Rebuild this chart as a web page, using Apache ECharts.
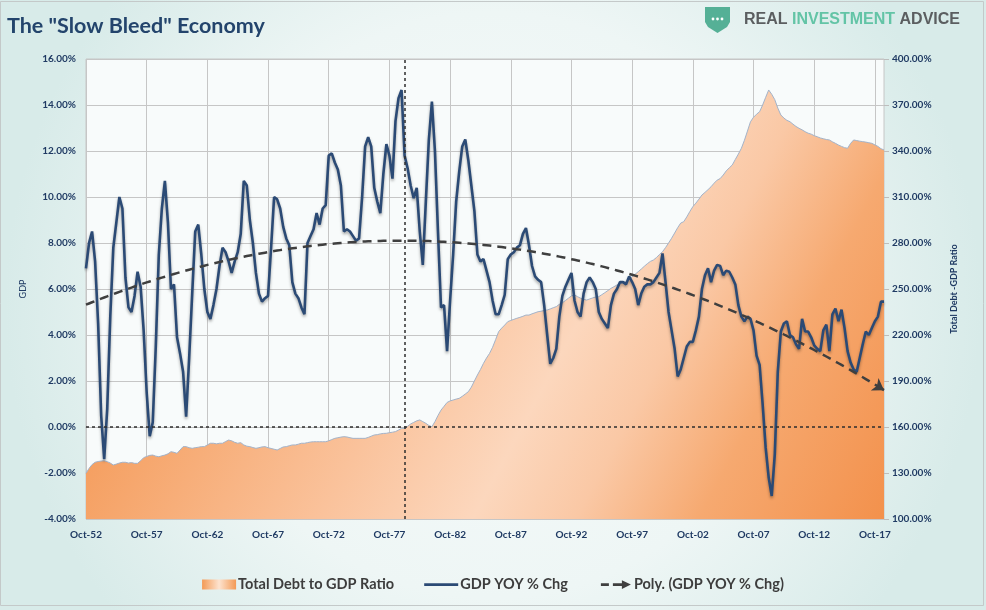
<!DOCTYPE html>
<html><head><meta charset="utf-8">
<script src="https://cdn.jsdelivr.net/npm/echarts@6/dist/echarts.min.js"></script>
<style>html,body{margin:0;padding:0;background:#fff;}#c{width:986px;height:610px;}</style>
</head><body><div id="c"></div>
<script>
// Quarterly data, first point = Oct-52
const firstYear = 1952;
const firstQuarterIndex = 3; // 0=Jan,1=Apr,2=Jul,3=Oct
const quarterMonths = ['Jan','Apr','Jul','Oct'];

// GDP YOY % change (left axis, %)
const gdpYoY = [
  6.9, 8.0, 8.5, 7.2, 4.5, 0.5, -1.4, 0.8, 4.8, 7.8,
  8.9, 10.0, 9.5, 6.5, 5.2, 5.0, 5.7, 6.75, 6.1, 4.2,
  1.5, -0.4, 0.2, 3.5, 7.5, 9.5, 10.7, 8.9, 6.0, 6.2,
  3.9, 3.2, 2.4, 0.45, 3.0, 5.8, 8.5, 8.8, 7.5, 6.0,
  5.0, 4.7, 5.3, 6.0, 7.0, 7.8, 7.6, 7.2, 6.7, 7.2,
  7.6, 8.4, 10.7, 10.5, 9.0, 8.0, 6.7, 5.8, 5.45, 5.6,
  5.7, 7.8, 10.0, 9.9, 9.5, 8.7, 8.2, 7.9, 6.3, 5.8,
  5.6, 5.2, 4.9, 8.0, 8.3, 8.6, 9.3, 8.8, 9.5, 9.65,
  11.8, 11.9, 11.5, 11.2, 10.5, 8.5, 8.6, 8.5, 8.3, 8.1,
  8.2, 10.0, 12.2, 12.6, 12.2, 10.4, 9.8, 9.3, 11.0, 12.3,
  11.8, 10.8, 13.3, 14.3, 14.65, 11.8, 11.25, 10.5, 9.95, 10.4,
  8.5, 7.05, 9.8, 12.5, 14.15, 12.0, 8.5, 5.2, 5.3, 3.3,
  5.5, 7.5, 9.8, 11.1, 12.2, 12.5, 11.6, 10.5, 9.4, 7.5,
  7.2, 7.3, 6.8, 6.3, 5.5, 4.9, 4.9, 5.3, 5.75, 7.3,
  7.5, 7.6, 7.8, 7.9, 8.4, 8.65, 7.9, 7.0, 6.55, 6.4,
  6.3, 5.3, 4.0, 2.75, 3.0, 3.4, 4.8, 5.7, 6.1, 6.4,
  6.7, 5.5, 5.0, 4.8, 5.8, 6.3, 6.5, 6.3, 6.0, 5.0,
  4.7, 4.5, 4.3, 5.3, 5.8, 6.0, 6.3, 6.3, 6.2, 6.55,
  6.3, 6.0, 5.3, 5.8, 6.1, 6.2, 6.2, 6.3, 6.5, 6.7,
  7.55, 6.3, 5.0, 4.2, 3.4, 2.2, 2.5, 3.0, 3.5, 3.7,
  3.7, 4.2, 4.8, 6.0, 6.6, 6.9, 6.3, 6.8, 7.05, 7.0,
  6.6, 6.8, 6.75, 6.5, 6.2, 5.3, 4.8, 4.6, 4.8, 4.7,
  4.2, 3.1, 2.7, 1.0, -0.9, -2.2, -3.0, -1.2, 2.4, 4.15,
  4.5, 4.6, 4.0, 3.9, 3.6, 3.4, 4.7, 4.15, 4.15, 3.9,
  3.55, 3.4, 3.3, 4.2, 4.45, 3.3, 4.9, 5.15, 4.6, 5.1,
  4.3, 3.3, 2.8, 2.5, 2.4, 3.0, 3.6, 4.15, 4.0, 4.3,
  4.6, 4.8, 5.45, 5.45
];

// Total debt to GDP ratio (right axis, %)
const debtToGdp = [
  129.8, 133, 135.5, 137, 137.5, 137.8, 138, 137.4, 136.5, 135.2,
  135.8, 136.5, 137, 137, 136.5, 136.8, 136.3, 136.3, 138, 140,
  140.8, 141.5, 141.7, 141, 140.6, 141.2, 141.7, 142.5, 143.9, 143.5,
  142.8, 145, 147.2, 147.2, 146.5, 146.1, 146.5, 146.8, 147.2, 147.2,
  148.3, 149.4, 149.4, 149, 149.4, 149.4, 150.5, 151.5, 151, 150,
  149.4, 149.8, 148.3, 147.5, 147.2, 146.6, 146.1, 146.5, 147, 147.2,
  146.5, 146, 145.5, 145, 146, 147, 147.2, 147.8, 148.3, 148.3,
  148.8, 149.4, 149.4, 149.8, 150.2, 150.4, 150.4, 150.4, 150.4, 150.4,
  151, 151.8, 152.6, 153, 153.4, 153.7, 153.5, 153, 152.6, 152.6,
  152.6, 152.6, 152.6, 153.2, 154, 154.8, 155, 155.5, 155.8, 155.9,
  156.3, 156.6, 157, 158, 159.1, 159.1, 160.5, 162, 163, 164,
  164.6, 163.5, 162.4, 161, 160.2, 163.5, 167.5, 171, 173.5, 176,
  177, 177.6, 178.2, 178.7, 180, 181.5, 183, 186, 190, 193.9,
  197.5, 201.5, 205, 208, 212, 217, 222.2, 224.5, 226.5, 228.7,
  229.5, 230.2, 230.9, 231.5, 232.2, 233, 233, 233.8, 234.5, 235.2,
  235.5, 236, 236.3, 237, 237.8, 238.5, 240, 241, 242.5, 244,
  245.5, 246.1, 245, 244, 243.2, 242.8, 243.5, 244.2, 244.8, 245,
  246.3, 247.6, 249, 250.4, 251.5, 252.6, 253.7, 254.2, 254.8, 256.5,
  258, 259.7, 261.3, 263, 264.8, 266.5, 268, 268.9, 270.5, 272.5,
  274.3, 277, 280, 283.1, 286.5, 290, 293, 293.9, 297, 300.5,
  303.7, 306, 308.6, 311.3, 313, 314.8, 316.7, 319, 321, 322,
  324.3, 327, 329, 330.9, 334.5, 338, 341.8, 347, 353, 359.1,
  362, 364, 365.6, 370, 375, 379.8, 377, 373.5, 368, 363.5,
  361.5, 360, 359.1, 357.5, 356, 354.8, 353.8, 352.6, 351.6, 351,
  350, 349.3, 348.5, 348, 347.5, 347.2, 346, 345, 343.9, 343,
  342.2, 341.8, 345, 347.2, 346.8, 346.4, 346.1, 345.8, 345.4, 345,
  344, 343, 341.5, 340.7
];

const markerCategory = 'Jan-79';   // vertical dashed reference line
const legendNames = ['Total Debt to GDP Ratio', 'GDP YOY % Chg', 'Poly. (GDP YOY % Chg)'];

// category labels
const categories = [];
{
  let y = firstYear, q = firstQuarterIndex;
  for (let i = 0; i < gdpYoY.length; i++) {
    categories.push(quarterMonths[q] + '-' + String(y % 100).padStart(2, '0'));
    q++; if (q > 3) { q = 0; y++; }
  }
}

// 2nd-order polynomial trendline (least squares, as Excel "Poly." trendline)
function polyFit2(ys) {
  const S = [0,0,0,0,0], T = [0,0,0];
  ys.forEach((v, i) => {
    const x = i / 100; let p = 1;
    for (let k = 0; k < 5; k++) { S[k] += p; if (k < 3) T[k] += p * v; p *= x; }
  });
  const A = [[S[0],S[1],S[2],T[0]],[S[1],S[2],S[3],T[1]],[S[2],S[3],S[4],T[2]]];
  for (let c = 0; c < 3; c++) {
    for (let r = c + 1; r < 3; r++) {
      const f = A[r][c] / A[c][c];
      for (let k = c; k < 4; k++) A[r][k] -= f * A[c][k];
    }
  }
  const sol = [0,0,0];
  for (let r = 2; r >= 0; r--) {
    let s = A[r][3];
    for (let k = r + 1; k < 3; k++) s -= A[r][k] * sol[k];
    sol[r] = s / A[r][r];
  }
  return ys.map((_, i) => { const x = i / 100; return sol[0] + sol[1]*x + sol[2]*x*x; });
}
const trend = polyFit2(gdpYoY);
const n = trend.length;

const navy = '#1f3a63';
const font = 'Lato, "Open Sans", sans-serif';

const chart = echarts.init(document.getElementById('c'), null, {renderer: 'canvas'});
chart.setOption({
  animation: false,
  backgroundColor: {type:'radial', x:0.5, y:0.5, r:0.8,
    colorStops:[{offset:0,color:'#f7fbfb'},{offset:0.6,color:'#eef6f5'},{offset:1,color:'#d8ebe9'}]},
  textStyle: {fontFamily: font},
  title: {
    text: 'The "Slow Bleed" Economy', left: 2, top: 10,
    textStyle: {fontSize: 21.5, fontWeight: 'bold', color: '#23446c', fontFamily: font}
  },
  graphic: [
    {type:'rect', shape:{x:0.5, y:1.5, width:983, height:604}, style:{fill:'none', stroke:'#c4c9c9', lineWidth:1}, silent:true},
    {type:'polygon', shape:{points:[[705,7],[730,7],[730,22],[727,27],[717.5,33],[708,27],[705,22]]}, style:{fill:'#55b096'}},
    {type:'circle', shape:{cx:713, cy:19, r:1.4}, style:{fill:'#fff'}},
    {type:'circle', shape:{cx:717.5, cy:19, r:1.4}, style:{fill:'#fff'}},
    {type:'circle', shape:{cx:722, cy:19, r:1.4}, style:{fill:'#fff'}},
    {type:'text', x:744, y:20, style:{
      text:'{a|REAL }{b|INVESTMENT }{a|ADVICE}', verticalAlign:'middle',
      rich:{
        a:{fontSize:16, fontWeight:'bold', fill:'#5b5e60', fontFamily:'"Liberation Sans", Arial, sans-serif'},
        b:{fontSize:16, fontWeight:'bold', fill:'#63c4a6', fontFamily:'"Liberation Sans", Arial, sans-serif'}
      }}}
  ],
  legend: {
    bottom: 13, left: 'center', itemWidth: 34, itemHeight: 10, itemGap: 30,
    textStyle: {fontSize: 14.5, fontWeight: 'bold', color: '#3d3d3d', fontFamily: font, padding: [0,0,0,-3]},
    data: [
      {name: legendNames[0], icon: 'rect', itemStyle: {color: {type:'linear', x:0,y:0,x2:1,y2:0,
        colorStops:[{offset:0,color:'#f39a55'},{offset:0.5,color:'#fde3cf'},{offset:1,color:'#f39a55'}]}}},
      {name: legendNames[1], icon: 'path://M0,0M34,10M0,3.8L34,3.8L34,6.4L0,6.4Z',
        itemStyle: {color: '#2b4a75', borderWidth: 0}, lineStyle: {width: 0}},
      {name: legendNames[2], icon: 'path://M0,0M34,10M3,3.8L11,3.8L11,6.4L3,6.4Z M15,3.8L25,3.8L25,6.4L15,6.4Z M24,0.8L33,5.1L24,9.4Z',
        itemStyle: {color: '#3f3f3f', borderWidth: 0}, lineStyle: {width: 0}}
    ]
  },
  grid: {left: 86, right: 102, top: 59, bottom: 91, show: true,
    backgroundColor: '#f8fbfb', borderColor: '#c6c6c6', borderWidth: 1},
  xAxis: {
    type: 'category', data: categories, boundaryGap: false,
    axisLine: {lineStyle: {color: '#bdbdbd'}},
    axisTick: {show: false},
    axisLabel: {interval: 19, color: navy, fontSize: 10, fontWeight: 'bold', margin: 11},
    splitLine: {show: true, interval: 19, lineStyle: {color: '#c6c6c6', width: 1}}
  },
  yAxis: [
    {type: 'value', position: 'left', min: -4, max: 16, interval: 2,
     name: 'GDP', nameLocation: 'middle', nameGap: 58, nameRotate: 90,
     nameTextStyle: {color: navy, fontSize: 9, fontFamily: font},
     axisLine: {show: false}, axisTick: {show: false},
     axisLabel: {color: navy, fontSize: 10, fontWeight: 'bold', margin: 10, formatter: v => v.toFixed(2) + '%'},
     splitLine: {lineStyle: {color: '#c6c6c6', width: 1}}},
    {type: 'value', position: 'right', min: 100, max: 400, interval: 30,
     name: 'Total Debt -GDP Ratio', nameLocation: 'middle', nameGap: 66, nameRotate: 90,
     nameTextStyle: {color: navy, fontSize: 9, fontWeight: 'bold', fontFamily: font},
     axisLine: {show: false}, axisTick: {show: true, length: 5, lineStyle: {color: '#bdbdbd'}},
     axisLabel: {color: navy, fontSize: 10, fontWeight: 'bold', margin: 8, formatter: v => v.toFixed(2) + '%'},
     splitLine: {show: false}}
  ],
  series: [
    {
      name: legendNames[0], type: 'line', yAxisIndex: 1, data: debtToGdp,
      symbol: 'none', z: 1,
      lineStyle: {color: '#a3b3c9', width: 1},
      itemStyle: {color: '#f4a262'},
      areaStyle: {origin: 'start', opacity: 1, color: {type:'linear', x:0, y:0, x2:1, y2:1,
        colorStops:[
          {offset:0, color:'#f39350'},
          {offset:0.2, color:'#f5a062'},
          {offset:0.45, color:'#fac29b'},
          {offset:0.6, color:'#fcd7bd'},
          {offset:0.7, color:'#fac8a5'},
          {offset:0.82, color:'#f6a970'},
          {offset:1, color:'#f3914c'}]}}
    },
    {
      name: legendNames[1], type: 'line', yAxisIndex: 0, data: gdpYoY,
      symbol: 'none', z: 3,
      lineStyle: {color: '#2b4a75', width: 2.6, shadowColor: 'rgba(0,0,0,0.35)', shadowBlur: 3, shadowOffsetY: 2},
      itemStyle: {color: '#2b4a75'},
      markLine: {
        silent: true, symbol: 'none', label: {show: false},
        lineStyle: {color: '#2e2e2e', width: 1.5, type: [3, 3]},
        data: [{yAxis: 0}, {xAxis: markerCategory}]
      }
    },
    {
      name: legendNames[2], type: 'line', yAxisIndex: 0, data: trend,
      symbol: 'none', z: 4,
      lineStyle: {color: '#3f3f3f', width: 2.5, type: [9, 6]},
      itemStyle: {color: '#3f3f3f'},
      markLine: {
        silent: true, symbol: ['none', 'arrow'], symbolSize: 11, label: {show: false},
        lineStyle: {color: '#3f3f3f', width: 2.5, type: 'solid'},
        data: [[{coord: [n - 3, trend[n - 3]]}, {coord: [n - 1, trend[n - 1]]}]]
      }
    }
  ]
});
</script>
</body></html>
